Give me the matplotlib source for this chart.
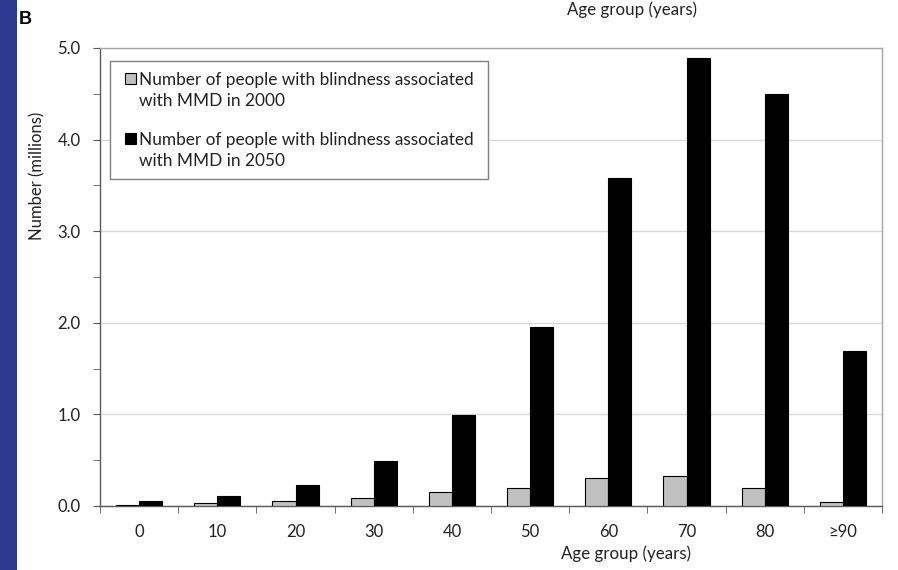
import matplotlib
matplotlib.use("Agg")
import matplotlib.pyplot as plt
import numpy as np
from matplotlib.patches import Rectangle

plt.rcParams['font.family'] = ['Lato', 'DejaVu Sans']

categories = ["0", "10", "20", "30", "40", "50", "60", "70", "80", "≥90"]
blind_2000 = [0.015, 0.036, 0.055, 0.084, 0.15, 0.196, 0.306, 0.324, 0.193, 0.047]
blind_2050 = [0.055, 0.106, 0.23, 0.49, 0.99, 1.95, 3.58, 4.89, 4.5, 1.69]
legend_labels = [["Number of people with blindness associated", "with MMD in 2000"],
                 ["Number of people with blindness associated", "with MMD in 2050"]]
yticks = [0, 1, 2, 3, 4, 5]

W, H = 898, 570
fig = plt.figure(figsize=(W / 100, H / 100), dpi=100)


def fx(px):
    return px / W


def fy(py):
    return 1 - py / H


# blue strip on left
fig.patches.append(Rectangle((0, 0), 17 / W, 1, transform=fig.transFigure,
                             facecolor="#2B3990", edgecolor="none", zorder=0))
fig.text(fx(19), fy(19), "B", fontsize=13, fontweight="bold",
         family="Liberation Sans", ha="left", va="center")
fig.text(fx(632), fy(10), "Age group (years)", fontsize=12.2,
         ha="center", va="center", color="#222222")

ax = fig.add_axes([100 / W, (H - 506) / H, 782 / W, 458 / H])

x = np.arange(len(categories))
bw = 0.295
bar_colors = ["#C0C0C0", "black"]
ax.bar(x - bw / 2, blind_2000, bw, color=bar_colors[0], edgecolor="black", linewidth=0.8, zorder=3)
ax.bar(x + bw / 2, blind_2050, bw, color=bar_colors[1], edgecolor="black", linewidth=0.8, zorder=3)

ax.set_xlim(-0.5, len(categories) - 0.5)
ax.set_ylim(0, 5)
ax.set_yticks(yticks)
ax.set_yticklabels([f"{v:.1f}" for v in yticks])
ax.set_yticks(np.arange(0.5, 5, 1.0), minor=True)
ax.yaxis.grid(True, which="major", color="#D9D9D9", linewidth=1, zorder=0)

ax.set_xticks(x)
ax.set_xticklabels(categories)
ax.set_xticks(np.arange(-0.5, len(categories), 1.0), minor=True)
ax.tick_params(axis="x", which="major", length=0, pad=13, labelsize=12, labelcolor="#222222")
ax.tick_params(axis="x", which="minor", length=5, direction="out", color="#595959")
ax.tick_params(axis="y", which="both", length=5, direction="out", color="#595959",
               labelsize=12, labelcolor="#222222", pad=9)

for s in ["left", "bottom"]:
    ax.spines[s].set_color("#595959")
    ax.spines[s].set_linewidth(1)
for s in ["top", "right"]:
    ax.spines[s].set_color("#A6A6A6")
    ax.spines[s].set_linewidth(1)

ax.set_ylabel("Number (millions)", fontsize=12, color="#222222")
ax.set_xlabel("Age group (years)", fontsize=12.2, color="#222222")
ax.yaxis.set_label_coords(-63 / 782, (506 - 176) / 458)
ax.xaxis.set_label_coords((626 - 100) / 782, -(554 - 506) / 458)
ax.xaxis.label.set_va("center")
ax.yaxis.label.set_va("center")

# legend box drawn by hand (square markers aligned with first line)
fig.patches.append(Rectangle((fx(110), fy(179)), fx(488) - fx(110), fy(61) - fy(179),
                             transform=fig.transFigure, facecolor="white",
                             edgecolor="#808080", linewidth=1, zorder=5))
item_top = [85, 145]
for i, lines in enumerate(legend_labels):
    base = item_top[i]
    fig.patches.append(Rectangle((fx(125), fy(base - 1)), fx(136) - fx(125), fy(base - 12) - fy(base - 1),
                                 transform=fig.transFigure, facecolor=bar_colors[i],
                                 edgecolor="black", linewidth=0.8, zorder=6))
    for j, line in enumerate(lines):
        t = fig.text(fx(139), fy(base + 21 * j), line, fontsize=12.4, color="#222222",
                     ha="left", va="baseline", zorder=6)

fig.savefig("out.png", dpi=100)
